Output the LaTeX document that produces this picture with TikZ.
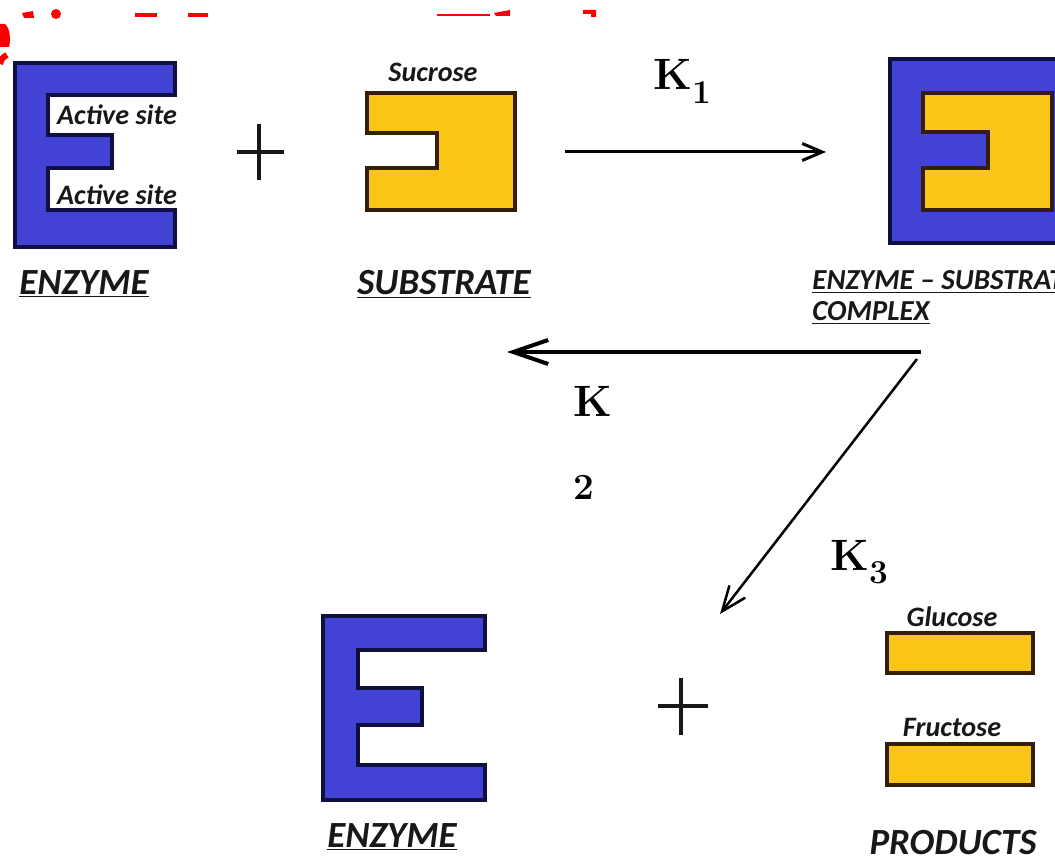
\documentclass[tikz,border=0pt]{standalone}
\usepackage{fontspec}
\setsansfont{Carlito}
\usetikzlibrary{arrows.meta}
\definecolor{enzblue}{RGB}{66,66,212}
\definecolor{enzedge}{RGB}{16,16,64}
\definecolor{subyellow}{RGB}{250,197,20}
\definecolor{subedge}{RGB}{52,30,10}
\definecolor{ink}{RGB}{24,24,24}
\definecolor{titlered}{RGB}{250,0,0}
% rate constant with a dropped subscript
\newcommand\ratek[1]{K\raisebox{-7.5pt}{\fontsize{19}{19}\selectfont #1}}
\tikzset{
  enz/.style={fill=enzblue,draw=enzedge,line width=2pt,line join=miter},
  sub/.style={fill=subyellow,draw=subedge,line width=2pt,line join=miter},
  lbl/.style={font=\sffamily\bfseries\itshape\fontsize{16}{19}\selectfont,text=ink,inner sep=0pt},
  captxt/.style={font=\sffamily\bfseries\itshape\fontsize{21}{25}\selectfont,text=ink,inner sep=0pt},
  rate/.style={font=\bfseries\fontsize{25}{47}\selectfont,inner sep=0pt},
  rxn/.style={-{Straight Barb[length=4mm,width=3.4mm]},line width=0.6mm}, % forward step
  plusln/.style={line width=0.65mm,ink},
}

\begin{document}
\begin{tikzpicture}[x=0.2mm,y=-0.2mm]
  \clip (0,0) rectangle (1055,863);
  % heading, cut off by the top edge
  \begin{scope}[titlered]
    \fill (0,24) -- (5,24) .. controls (10,28) and (11,40) .. (9,47) -- (0,47) -- cycle;
    \draw[line width=1.2mm] (0,64) .. controls (2,58) .. (7,55);
    \fill (22,13) -- (33,11) -- (34,18) -- (24,18) -- cycle;
    \fill (56,14) circle (5);
    \fill (135,13) rectangle (157,17);
    \fill (188,13) rectangle (208,17);
    \fill (437,14) rectangle (490,16.5);
    \fill (494,13) -- (510,10) -- (510,16) -- (496,16) -- cycle;
    \fill (583,10) -- (596,10) -- (596,17) -- (591,17) -- (591,14) -- (583,14) -- cycle;
  \end{scope}

  % free enzyme with its two active sites
  \draw[enz] (15,63) -- (175,63) -- (175,95) -- (48,95) -- (48,135) -- (112,135)
    -- (112,168) -- (48,168) -- (48,210) -- (175,210) -- (175,247) -- (15,247) -- cycle;
  \node[lbl] (site1) at (117,115) {Active site};
  \node[lbl] (site2) at (117,195) {Active site};
  \node[captxt] (enzA) at (84,284) {\underline{ENZYME}};

  \draw[plusln] (237,152) -- (284,152) (259,124) -- (259,180);

  % substrate
  \draw[sub] (367,93) -- (515,93) -- (515,210) -- (367,210) -- (367,168)
    -- (437,168) -- (437,133) -- (367,133) -- cycle;
  \node[lbl] (sucr) at (433,72) {Sucrose};
  \node[captxt] (subs) at (444,284) {\underline{SUBSTRATE}};

  % K1 : binding
  \coordinate (k1a) at (565,152);
  \coordinate (k1b) at (826,152);
  \draw[rxn] (k1a) -- (k1b);
  \node[rate,anchor=base west] (K1) at (653,90) {\ratek{1}};

  % enzyme-substrate complex
  \draw[enz] (890,59) rectangle (1075,243);
  \draw[sub] (923,93) -- (1052,93) -- (1052,210) -- (923,210) -- (923,168)
    -- (988,168) -- (988,132) -- (923,132) -- cycle;
  \node[captxt,font=\sffamily\bfseries\itshape\fontsize{16.5}{17.6}\selectfont,
    align=left,anchor=north west] (esc) at (812,270)
    {\underline{ENZYME -- SUBSTRATE}\\\underline{COMPLEX}};

  % K2 back to E + S, K3 on to products
  \coordinate (es) at (921,352);
  \coordinate (es3) at (917,359);
  \coordinate (k2end) at (507,352);
  \coordinate (k3end) at (720,614);
  \draw[-{Straight Barb[length=7mm,width=4.8mm]},line width=0.8mm] (es) -- (k2end);
  \draw[-{Straight Barb[length=5mm,width=4mm]},line width=0.5mm] (es3) -- (k3end);
  \node[rate,align=left,anchor=north west] (K2) at (573,386)
    {K\\{\fontsize{21}{47}\selectfont 2}};
  \node[rate,anchor=base west] (K3) at (830,570) {\ratek{3}};

  % released enzyme
  \draw[enz] (323,616) -- (485,616) -- (485,650) -- (358,650) -- (358,688) -- (422,688)
    -- (422,725) -- (358,725) -- (358,765) -- (485,765) -- (485,800) -- (323,800) -- cycle;
  \node[captxt] (enzB) at (392,837) {\underline{ENZYME}};

  \draw[plusln] (658,706) -- (708,706) (681,678) -- (681,735);

  % products
  \draw[sub] (887,633) rectangle (1033,673);
  \draw[sub] (887,744) rectangle (1033,785);
  \node[lbl] (gluc) at (952,617) {Glucose};
  \node[lbl] (fruc) at (952,727) {Fructose};
  \node[captxt] (prod) at (953,843) {PRODUCTS};
\end{tikzpicture}
\end{document}
